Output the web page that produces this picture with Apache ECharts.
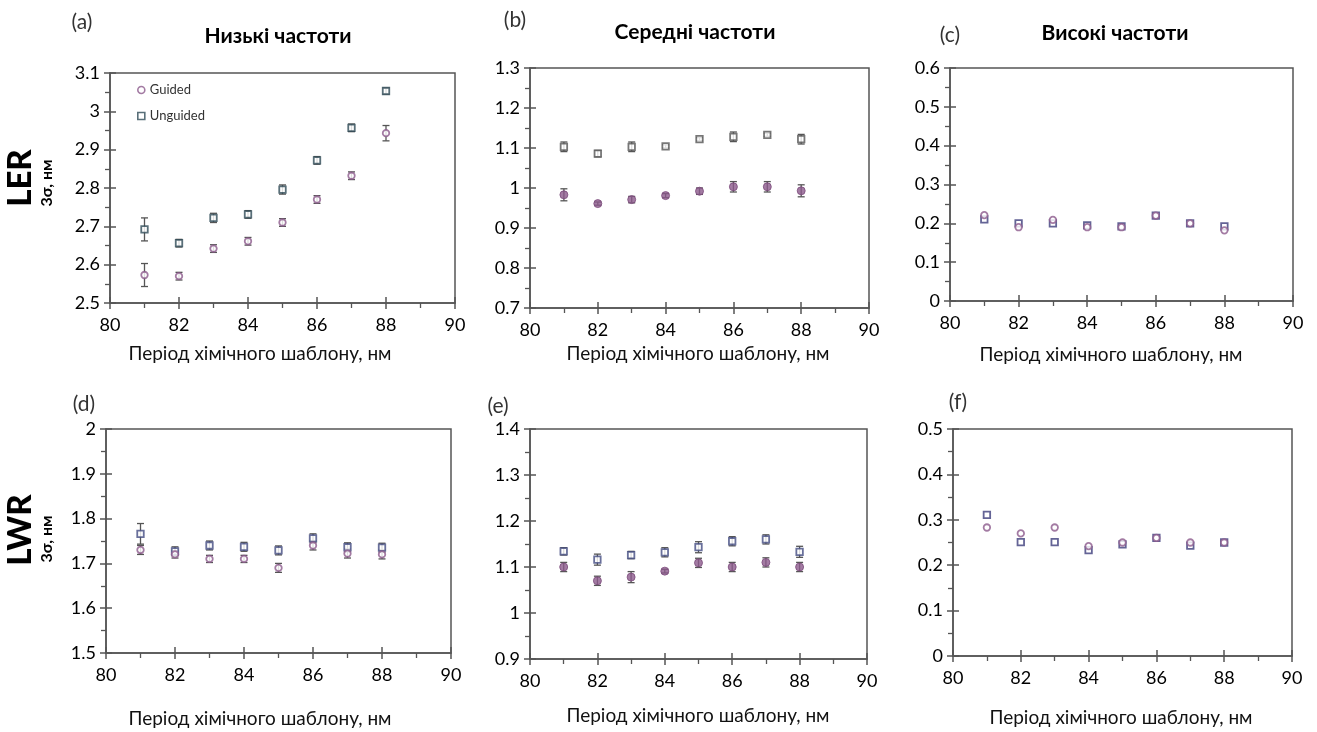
<!DOCTYPE html>
<html><head><meta charset="utf-8">
<script src="https://cdn.jsdelivr.net/npm/echarts@6/dist/echarts.min.js"></script>
<style>html,body{margin:0;padding:0;background:#fff}#c{width:1317px;height:732px}</style>
</head><body><div id="c"></div>
<script>
// ---- data ----
const periods = [81, 82, 83, 84, 85, 86, 87, 88];
const xTicks = [80, 82, 84, 86, 88, 90];

// (a) LER, low frequencies
const lerLowGuided = [2.573, 2.57, 2.642, 2.661, 2.71, 2.77, 2.832, 2.943];
const lerLowGuidedErr = [0.03, 0.01, 0.01, 0.01, 0.01, 0.01, 0.01, 0.02];
const lerLowUnguided = [2.692, 2.656, 2.722, 2.731, 2.796, 2.872, 2.957, 3.053];
const lerLowUnguidedErr = [0.03, 0.01, 0.012, 0.01, 0.012, 0.01, 0.01, 0.008];
// (b) LER, mid frequencies
const lerMidGuided = [0.983, 0.961, 0.971, 0.981, 0.992, 1.003, 1.003, 0.993];
const lerMidGuidedErr = [0.015, 0.004, 0.008, 0.005, 0.008, 0.013, 0.013, 0.015];
const lerMidUnguided = [1.103, 1.086, 1.103, 1.104, 1.122, 1.128, 1.133, 1.122];
const lerMidUnguidedErr = [0.012, 0.008, 0.012, 0.004, 0.004, 0.012, 0.004, 0.012];
// (c) LER, high frequencies
const lerHighGuided = [0.221, 0.19, 0.209, 0.19, 0.19, 0.22, 0.2, 0.182];
const lerHighUnguided = [0.21, 0.2, 0.2, 0.195, 0.192, 0.22, 0.2, 0.192];
// (d) LWR, low frequencies
const lwrLowGuided = [1.73, 1.72, 1.71, 1.71, 1.69, 1.74, 1.722, 1.72];
const lwrLowGuidedErr = [0.01, 0.008, 0.008, 0.008, 0.01, 0.01, 0.01, 0.01];
const lwrLowUnguided = [1.766, 1.727, 1.74, 1.737, 1.729, 1.756, 1.736, 1.735];
const lwrLowUnguidedErr = [0.023, 0.01, 0.01, 0.01, 0.01, 0.01, 0.01, 0.01];
// (e) LWR, mid frequencies
const lwrMidGuided = [1.1, 1.07, 1.078, 1.091, 1.109, 1.1, 1.11, 1.1];
const lwrMidGuidedErr = [0.01, 0.01, 0.012, 0.004, 0.01, 0.01, 0.01, 0.01];
const lwrMidUnguided = [1.134, 1.116, 1.126, 1.132, 1.143, 1.156, 1.16, 1.133];
const lwrMidUnguidedErr = [0.008, 0.012, 0.008, 0.01, 0.012, 0.01, 0.01, 0.012];
// (f) LWR, high frequencies
const lwrHighGuided = [0.283, 0.27, 0.283, 0.242, 0.25, 0.26, 0.25, 0.25];
const lwrHighUnguided = [0.311, 0.251, 0.251, 0.233, 0.246, 0.26, 0.243, 0.25];

const yRanges = [[2.5, 3.1], [0.7, 1.3], [0, 0.6], [1.5, 2.0], [0.9, 1.4], [0, 0.5]];
const panelLetters = ['(a)', '(b)', '(c)', '(d)', '(e)', '(f)'];
const columnTitles = ['Низькі частоти', 'Середні частоти', 'Високі частоти'];
const xAxisTitle = 'Період хімічного шаблону, нм';
const rowTitles = ['LER', 'LWR'];
const yUnit = '3σ, нм';
const seriesNames = ['Guided', 'Unguided'];

// ---- layout / style ----
const grids = [
  {left: 110, top: 73, width: 345, height: 230},
  {left: 530, top: 68, width: 339, height: 240},
  {left: 950, top: 68, width: 343, height: 233},
  {left: 106, top: 429, width: 345, height: 224},
  {left: 530, top: 429, width: 337, height: 230},
  {left: 953, top: 429, width: 339, height: 227}
];
const guidedColor = '#8c5a8c';
const unguidedColors = ['#2f4b57', '#555555', '#3d3d7c', '#434c82', '#434c82', '#3d3d7c'];
const guidedFilled = [false, true, false, false, true, false];
const errColor = '#555';
const FONT = 'Lato';

const panelData = [
  [lerLowGuided, lerLowGuidedErr, lerLowUnguided, lerLowUnguidedErr],
  [lerMidGuided, lerMidGuidedErr, lerMidUnguided, lerMidUnguidedErr],
  [lerHighGuided, null, lerHighUnguided, null],
  [lwrLowGuided, lwrLowGuidedErr, lwrLowUnguided, lwrLowUnguidedErr],
  [lwrMidGuided, lwrMidGuidedErr, lwrMidUnguided, lwrMidUnguidedErr],
  [lwrHighGuided, null, lwrHighUnguided, null]
];

function errRender(params, api) {
  const x = api.value(0), lo = api.value(1), hi = api.value(2);
  if (hi - lo <= 0) return null;
  const p1 = api.coord([x, hi]), p2 = api.coord([x, lo]);
  const w = 3.5;
  const st = {stroke: errColor, lineWidth: 1.3};
  return {type: 'group', children: [
    {type: 'line', shape: {x1: p1[0], y1: p1[1], x2: p2[0], y2: p2[1]}, style: st},
    {type: 'line', shape: {x1: p1[0] - w, y1: p1[1], x2: p1[0] + w, y2: p1[1]}, style: st},
    {type: 'line', shape: {x1: p2[0] - w, y1: p2[1], x2: p2[0] + w, y2: p2[1]}, style: st}
  ]};
}

const xAxes = [], yAxes = [], series = [];
const axisLineStyle = {color: '#555', width: 1.5};
grids.forEach((g, i) => {
  const [ymin, ymax] = yRanges[i];
  xAxes.push({gridIndex: i, type: 'value', min: 80, max: 90, interval: 2,
    axisLine: {show: true, lineStyle: axisLineStyle},
    axisTick: {show: true, inside: false, length: 6, lineStyle: axisLineStyle},
    minorTick: {show: true, splitNumber: 2, length: 5, lineStyle: {color: '#555', width: 1.3}},
    axisLabel: {fontSize: 18, color: '#000', margin: 13, fontFamily: FONT},
    splitLine: {show: false}, minorSplitLine: {show: false}});
  xAxes.push({gridIndex: i, type: 'value', min: 80, max: 90, interval: 2, position: 'bottom',
    axisLine: {show: false}, axisLabel: {show: false},
    axisTick: {show: true, inside: true, length: 6, lineStyle: axisLineStyle},
    splitLine: {show: false}});
  yAxes.push({gridIndex: i, type: 'value', min: ymin, max: ymax, interval: 0.1,
    axisLine: {show: true, lineStyle: axisLineStyle},
    axisTick: {show: true, inside: false, length: 6, lineStyle: axisLineStyle},
    minorTick: {show: true, splitNumber: 2, length: 5, lineStyle: {color: '#555', width: 1.3}},
    axisLabel: {fontSize: 18, color: '#000', margin: 10, fontFamily: FONT},
    splitLine: {show: false}, minorSplitLine: {show: false}});
  yAxes.push({gridIndex: i, type: 'value', min: ymin, max: ymax, interval: 0.1, position: 'left',
    axisLine: {show: false}, axisLabel: {show: false},
    axisTick: {show: true, inside: true, length: 6, lineStyle: axisLineStyle},
    splitLine: {show: false}});

  const [gv, ge, uv, ue] = panelData[i];
  [[uv, ue], [gv, ge]].forEach(([vals, errs]) => {
    if (!errs) return;
    series.push({type: 'custom', xAxisIndex: 2 * i, yAxisIndex: 2 * i, renderItem: errRender,
      silent: true, z: 1,
      data: periods.map((p, k) => [p, vals[k] - errs[k], vals[k] + errs[k]])});
  });
  series.push({name: seriesNames[1], type: 'scatter', xAxisIndex: 2 * i, yAxisIndex: 2 * i,
    symbol: 'rect', symbolSize: 6.5, z: 3,
    itemStyle: {color: '#fff', borderColor: unguidedColors[i], borderWidth: 1.8},
    data: periods.map((p, k) => [p, uv[k]])});
  series.push({name: seriesNames[0], type: 'scatter', xAxisIndex: 2 * i, yAxisIndex: 2 * i,
    symbol: 'circle', symbolSize: guidedFilled[i] ? 8 : 6.5, z: 4,
    itemStyle: guidedFilled[i]
      ? {color: guidedColor, borderColor: '#7a4a7a', borderWidth: 1}
      : {color: '#fff', borderColor: guidedColor, borderWidth: 1.8},
    data: periods.map((p, k) => [p, gv[k]])});
});

const graphics = [];
const letterPos = [[82, 22], [515, 20], [950, 35], [84, 404], [498, 406], [958, 402]];
panelLetters.forEach((t, i) => graphics.push({type: 'text', x: letterPos[i][0], y: letterPos[i][1],
  style: {text: t, fontSize: 21, fontFamily: FONT, fill: '#333', textAlign: 'center', textVerticalAlign: 'middle'}}));
const titleX = [278, 695, 1115], titleY = [36, 32, 33];
columnTitles.forEach((t, i) => graphics.push({type: 'text', x: titleX[i], y: titleY[i],
  style: {text: t, fontSize: 21, fontWeight: 'bold', fontFamily: FONT, fill: '#000', textAlign: 'center', textVerticalAlign: 'middle'}}));
const xtX = [260, 698, 1111, 260, 698, 1121], xtY = [354, 354, 355, 719, 716, 718];
xtX.forEach((x, i) => graphics.push({type: 'text', x: x, y: xtY[i],
  style: {text: xAxisTitle, fontSize: 19, fontFamily: FONT, fill: '#111', textAlign: 'center', textVerticalAlign: 'middle'}}));
const rowY = [178, 530], unitY = [183, 539];
rowTitles.forEach((t, i) => {
  graphics.push({type: 'text', x: 20, y: rowY[i], rotation: Math.PI / 2,
    style: {text: t, fontSize: 33, fontWeight: 900, fontFamily: FONT, fill: '#000', textAlign: 'center', textVerticalAlign: 'middle'}});
  graphics.push({type: 'text', x: 47, y: unitY[i], rotation: Math.PI / 2,
    style: {text: yUnit, fontSize: 16, fontWeight: 'bold', fontFamily: FONT, fill: '#000', textAlign: 'center', textVerticalAlign: 'middle'}});
});

const chart = echarts.init(document.getElementById('c'), null, {renderer: 'canvas'});
chart.setOption({
  animation: false,
  backgroundColor: '#fff',
  grid: grids.map(g => Object.assign({show: true, borderColor: '#555', borderWidth: 1.5, backgroundColor: 'transparent'}, g)),
  xAxis: xAxes,
  yAxis: yAxes,
  legend: {show: true, orient: 'vertical', left: 132, top: 77, itemGap: 10, itemWidth: 7, itemHeight: 7,
    data: [
      {name: 'Guided', icon: 'circle', itemStyle: {color: '#fff', borderColor: guidedColor, borderWidth: 1.6}},
      {name: 'Unguided', icon: 'rect', itemStyle: {color: '#fff', borderColor: unguidedColors[0], borderWidth: 1.6}}
    ],
    textStyle: {fontSize: 13, fontFamily: FONT, color: '#333', lineHeight: 16},
    selectedMode: false},
  graphic: graphics,
  series: series
});
</script></body></html>
